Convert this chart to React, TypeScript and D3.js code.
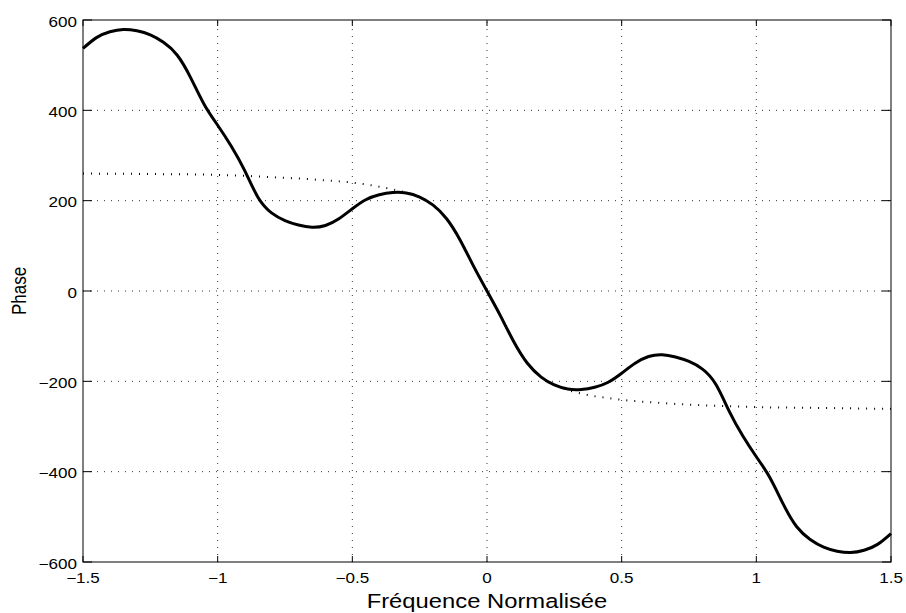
import React from "react";
import * as d3 from "d3";

const xTicks = [-1.5, -1, -0.5, 0, 0.5, 1, 1.5];
const xTickLabels = ["\u22121.5", "\u22121", "\u22120.5", "0", "0.5", "1", "1.5"];
const yTicks = [-600, -400, -200, 0, 200, 400, 600];
const yTickLabels = ["\u2212600", "\u2212400", "\u2212200", "0", "200", "400", "600"];

const phaseX = [
  -1.5, -1.45, -1.4, -1.35, -1.3, -1.25, -1.2, -1.15, -1.1, -1.05, -1.0, -0.95, -0.9, -0.85, -0.8, -0.75,
  -0.7, -0.65, -0.6, -0.55, -0.5, -0.45, -0.4, -0.35, -0.3, -0.25, -0.2, -0.15, -0.1, -0.05, 0,
  0.05, 0.1, 0.15, 0.2, 0.25, 0.3, 0.35, 0.4, 0.45, 0.5, 0.55, 0.6, 0.65, 0.7, 0.75, 0.8, 0.85,
  0.9, 0.95, 1.0, 1.05, 1.1, 1.15, 1.2, 1.25, 1.3, 1.35, 1.4, 1.45, 1.5,
];
const phaseY = [
  537, 561, 574, 579, 576, 567, 550, 522, 472, 413, 367, 321, 267, 207, 173, 156,
  146, 141, 145, 160, 182, 202, 213, 218, 217, 208, 190, 160, 113, 55, 0,
  -55, -113, -160, -190, -208, -217, -218, -213, -202, -182, -160, -145, -141, -146, -156, -173, -207,
  -267, -321, -367, -413, -472, -522, -550, -567, -576, -579, -574, -561, -537,
];

const refX = [
  -1.5, -1.25, -1.0, -0.9, -0.8, -0.7, -0.6, -0.5, -0.45, -0.4, -0.35, -0.3, -0.25, -0.2, -0.15, -0.1, -0.05, 0,
  0.05, 0.1, 0.15, 0.2, 0.25, 0.3, 0.35, 0.4, 0.45, 0.5, 0.6, 0.7, 0.8, 0.9, 1.0, 1.25, 1.5,
];
const refY = [
  260, 259, 257, 255, 252, 249, 245, 240, 236, 231, 225, 218, 208, 190, 160, 113, 55, 0,
  -55, -113, -160, -190, -208, -219, -227, -233, -237, -241, -246, -250, -253, -255, -257, -259, -261,
];

const W = 906;
const H = 613;
const L = 83;
const R = 891;
const T = 20;
const B = 562;
const SX = 1.22;
const FONT = "'Liberation Sans', Arial, Helvetica, sans-serif";

export default function App() {
  const x = d3.scaleLinear().domain([-1.5, 1.5]).range([L, R]);
  const y = d3.scaleLinear().domain([-600, 600]).range([B, T]);

  const line = d3
    .line<number>()
    .x((_, i) => x(phaseX[i]))
    .y((d) => y(d))
    .curve(d3.curveNatural);
  const refLine = d3
    .line<number>()
    .x((_, i) => x(refX[i]))
    .y((d) => y(d))
    .curve(d3.curveMonotoneX);

  return (
    <svg
      width={W}
      height={H}
      style={{ position: "absolute", left: 0, top: 0, background: "#fff" }}
      fontFamily={FONT}
    >
      <rect x={0} y={0} width={W} height={H} fill="#fff" />
      {/* grid */}
      <g stroke="#000" strokeWidth={0.8} strokeDasharray="1 6" fill="none">
        {xTicks.slice(1, -1).map((t) => (
          <line key={"gx" + t} x1={x(t)} x2={x(t)} y1={B} y2={T} />
        ))}
        {yTicks.slice(1, -1).map((t) => (
          <line key={"gy" + t} x1={L} x2={R} y1={y(t)} y2={y(t)} />
        ))}
      </g>
      {/* dotted reference */}
      <path
        d={refLine(refY) || ""}
        fill="none"
        stroke="#000"
        strokeWidth={2}
        strokeDasharray="1 7"
      />
      {/* phase curve */}
      <path d={line(phaseY) || ""} fill="none" stroke="#000" strokeWidth={3} strokeLinejoin="round" />
      {/* axes box */}
      <rect x={L} y={T} width={R - L} height={B - T} fill="none" stroke="#000" strokeWidth={1} />
      {/* ticks */}
      <g stroke="#000" strokeWidth={1}>
        {xTicks.map((t) => (
          <g key={"tx" + t}>
            <line x1={x(t)} x2={x(t)} y1={B} y2={B - 6} />
            <line x1={x(t)} x2={x(t)} y1={T} y2={T + 6} />
          </g>
        ))}
        {yTicks.map((t) => (
          <g key={"ty" + t}>
            <line x1={L} x2={L + 9} y1={y(t)} y2={y(t)} />
            <line x1={R} x2={R - 9} y1={y(t)} y2={y(t)} />
          </g>
        ))}
      </g>
      {/* tick labels */}
      <g fontSize={14} fill="#000">
        {xTicks.map((t, i) => (
          <text
            key={"lx" + t}
            transform={`translate(${x(t)},${583}) scale(${SX},1)`}
            textAnchor="middle"
          >
            {xTickLabels[i]}
          </text>
        ))}
        {yTicks.map((t, i) => (
          <text
            key={"ly" + t}
            transform={`translate(${77},${y(t) + 6.5}) scale(${SX},1)`}
            textAnchor="end"
          >
            {yTickLabels[i]}
          </text>
        ))}
      </g>
      {/* axis labels */}
      <text
        transform={`translate(${487},${608}) scale(${SX},1)`}
        textAnchor="middle"
        fontSize={19.5}
        fill="#000"
      >
        Fréquence Normalisée
      </text>
      <text
        transform={`translate(${26},${291}) scale(${SX},1) rotate(-90)`}
        textAnchor="middle"
        fontSize={17}
        fill="#000"
      >
        Phase
      </text>
    </svg>
  );
}
